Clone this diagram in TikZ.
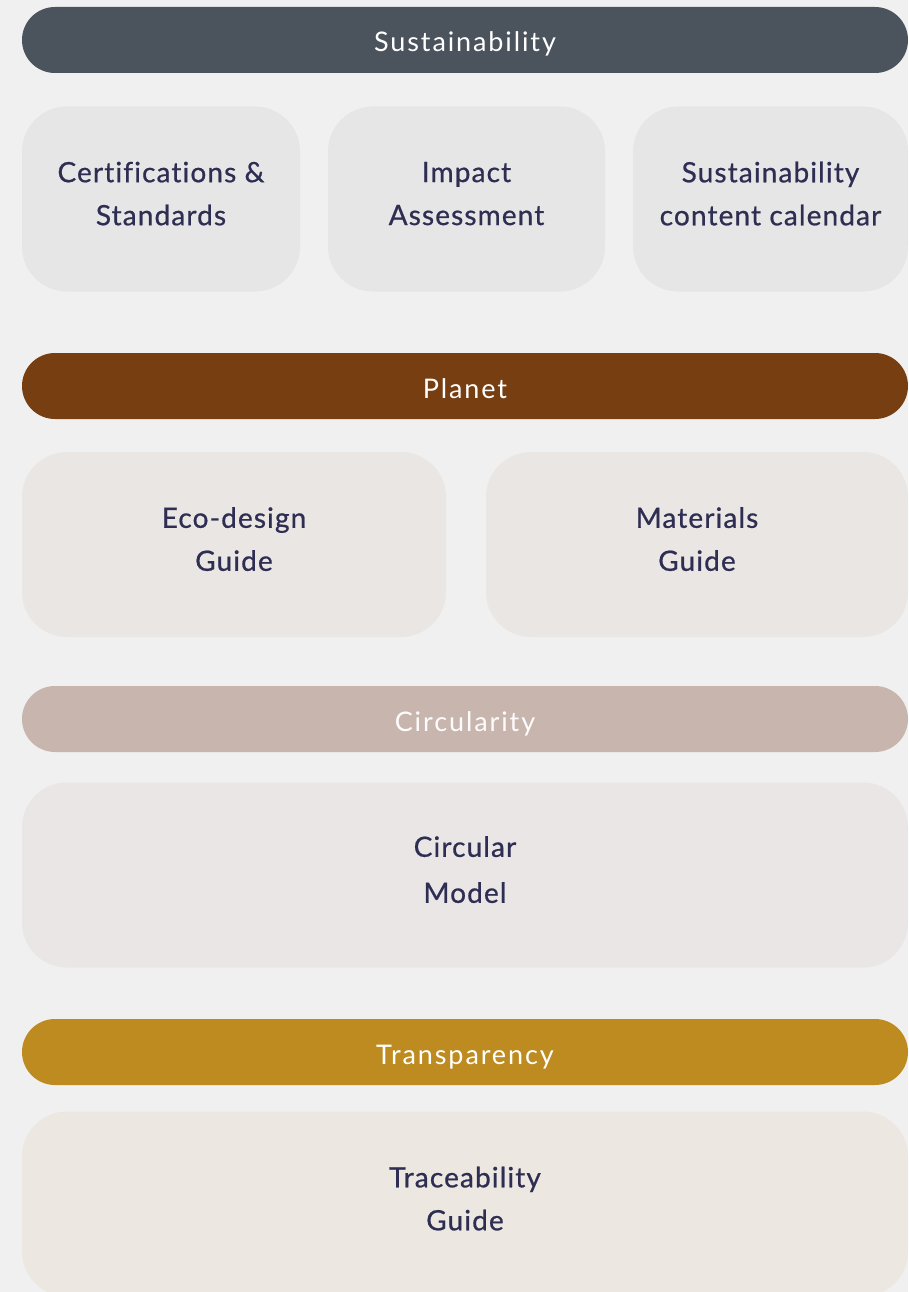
\documentclass[tikz,border=0pt]{standalone}
\usepackage{fontspec}
\setmainfont{Lato}
\newfontfamily\barfont{Lato}[LetterSpace=7, Ligatures=NoCommon]
\newfontfamily\cardfont{Lato}[LetterSpace=4, Ligatures=NoCommon, FakeBold=0.7]
\usetikzlibrary{positioning}

\definecolor{pagebg}{HTML}{F0F0F0}
\definecolor{inktext}{HTML}{2E2D52}
\definecolor{susbar}{HTML}{4B535C}
\definecolor{suscard}{HTML}{E6E6E6}
\definecolor{planetbar}{HTML}{763E11}
\definecolor{planetcard}{HTML}{EAE6E3}
\definecolor{circbar}{HTML}{C8B5AE}
\definecolor{circcard}{HTML}{EAE6E5}
\definecolor{transbar}{HTML}{BD8B1F}
\definecolor{transcard}{HTML}{ECE7E0}

\newcommand{\cardstrut}{\rule[-11pt]{0pt}{38pt}}

\tikzset{
  bar/.style={rounded corners=33pt, minimum width=886pt, minimum height=66pt,
    inner sep=0pt, text height=24pt, text depth=0pt, text=white,
    font=\barfont\fontsize{27}{30}\selectfont},
  card/.style={rounded corners=45pt, minimum height=185pt, inner sep=0pt,
    align=center, text=inktext, font=\cardfont\fontsize{28}{43}\selectfont,
    execute at begin node=\cardstrut, execute at end node=\cardstrut}
}

\begin{document}
\begin{tikzpicture}[x=1pt,y=-1pt]
    \fill[pagebg] (0,0) rectangle (908,1292);
    \useasboundingbox (0,0) rectangle (908,1292);

    % sustainability
    \node[bar, fill=susbar] (sus) at (465,40) {Sustainability};
    \node[card, fill=suscard, minimum width=278pt] (cert) at (161,199) {Certifications \&\\Standards};
    \node[card, fill=suscard, minimum width=277pt] (impact) at (466.5,199) {Impact\\Assessment};
    \node[card, fill=suscard, minimum width=275pt] (calendar) at (770.5,199) {Sustainability\\content calendar};

    % planet
    \node[bar, fill=planetbar] (planet) at (465,386) {Planet};
    \node[card, fill=planetcard, minimum width=424pt] (eco) at (234,544.5) {Eco-design\\Guide};
    \node[card, fill=planetcard, minimum width=422pt] (materials) at (697,544.5) {Materials\\Guide};

    % circularity
    \node[bar, fill=circbar, text=white!96!circbar] (circ) at (465,719) {Circularity};
    \node[card, fill=circcard, minimum width=886pt, font=\cardfont\fontsize{28}{46}\selectfont] (model) at (465,875) {Circular\\Model};

    % transparency
    \node[bar, fill=transbar] (trans) at (465,1052) {Transparency};
    \node[card, fill=transcard, minimum width=886pt] (trace) at (465,1204) {Traceability\\Guide};
\end{tikzpicture}
\end{document}
